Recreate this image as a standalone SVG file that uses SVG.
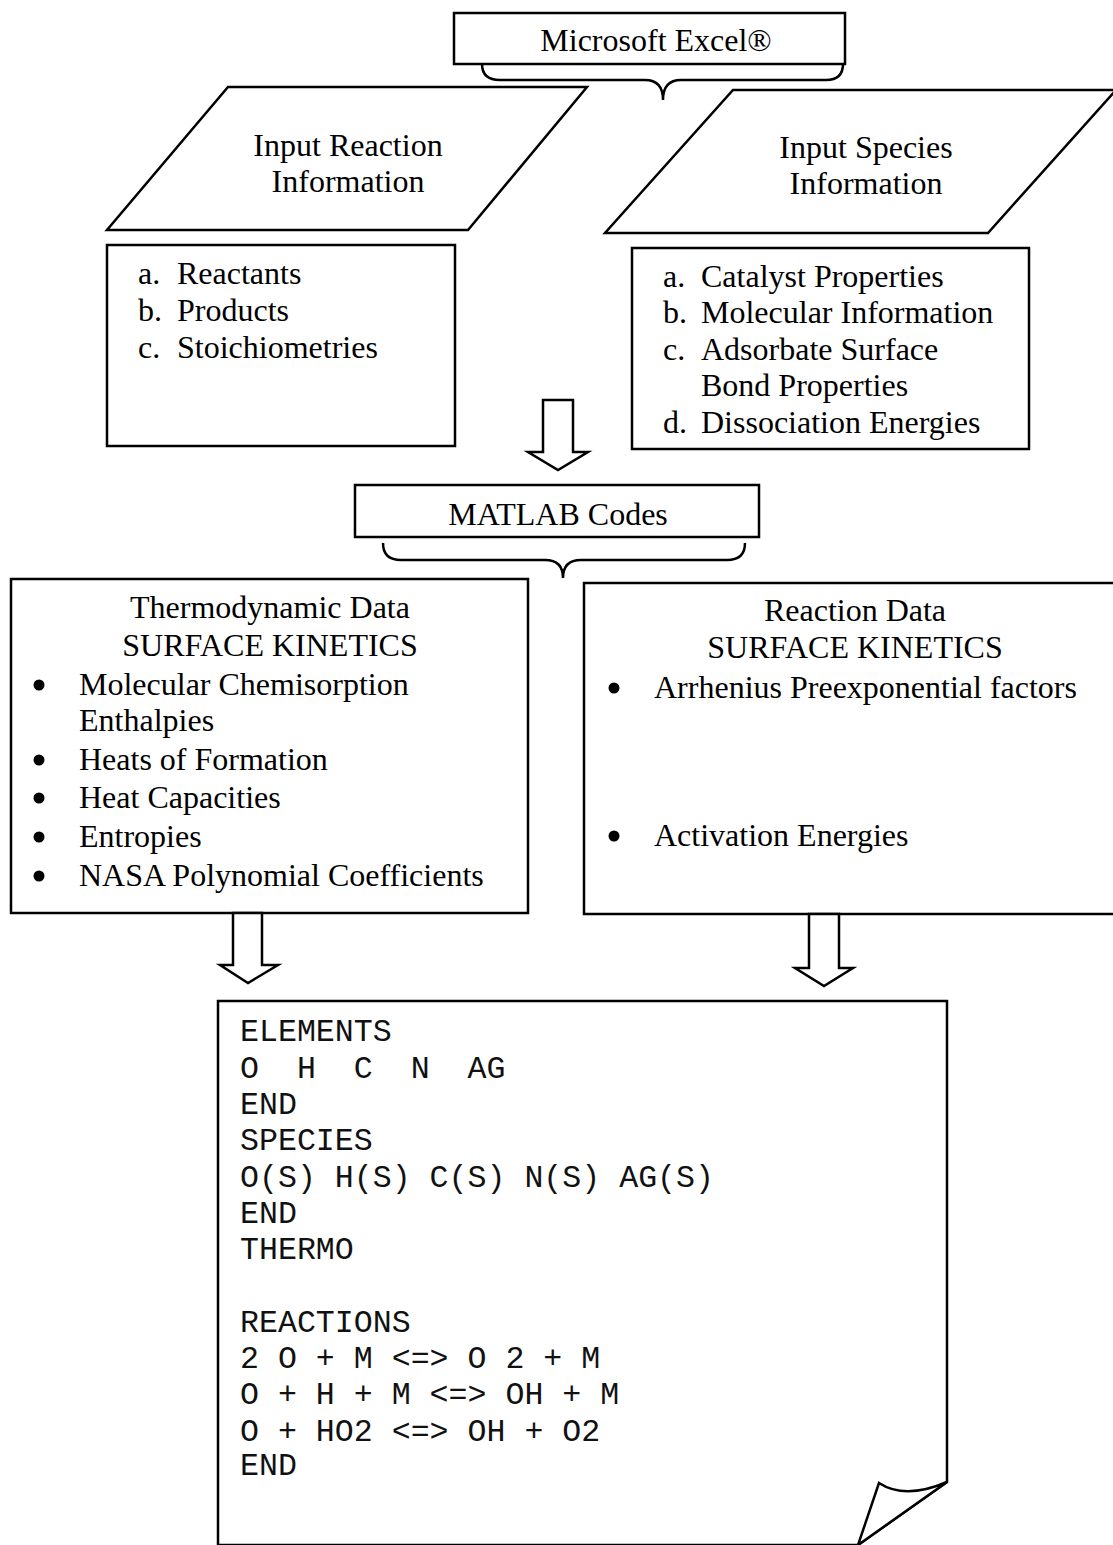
<svg xmlns="http://www.w3.org/2000/svg" width="1113" height="1545" viewBox="0 0 1113 1545">
<style>
.s{fill:#fff;stroke:#000;stroke-width:2.5;stroke-linejoin:miter}
.b{fill:none;stroke:#000;stroke-width:2.5}
.t{font-family:"Liberation Serif","Times New Roman",serif;font-size:32px;fill:#000}
.c{text-anchor:middle}
.m{font-family:"Liberation Mono","Courier New",monospace;font-size:31.6px;fill:#111}
.d{fill:#000}
</style>
<rect width="1113" height="1545" fill="#fff"/>
<g id="excel">
<rect class="s" x="454" y="13" width="391" height="51"/>
<text class="t c" x="656" y="51">Microsoft Excel®</text>
</g>
<g id="input-reaction">
<polygon class="s" points="228,87 587,87 468,230 107,230"/>
<text class="t c" x="348" y="156">Input Reaction</text>
<text class="t c" x="348" y="192">Information</text>
</g>
<g id="input-species">
<polygon class="s" points="733,90 1116,90 988,233 605,233"/>
<text class="t c" x="866" y="158">Input Species</text>
<text class="t c" x="866" y="194">Information</text>
</g>
<g id="reaction-list">
<rect class="s" x="107" y="245" width="348" height="201"/>
<text class="t" x="138" y="284">a.</text><text class="t" x="177" y="284">Reactants</text>
<text class="t" x="138" y="321">b.</text><text class="t" x="177" y="321">Products</text>
<text class="t" x="138" y="358">c.</text><text class="t" x="177" y="358">Stoichiometries</text>
</g>
<g id="species-list">
<rect class="s" x="632" y="248" width="397" height="201"/>
<text class="t" x="663" y="287">a.</text><text class="t" x="701" y="287">Catalyst Properties</text>
<text class="t" x="663" y="323">b.</text><text class="t" x="701" y="323">Molecular Information</text>
<text class="t" x="663" y="360">c.</text><text class="t" x="701" y="360">Adsorbate Surface</text>
<text class="t" x="701" y="396">Bond Properties</text>
<text class="t" x="663" y="433">d.</text><text class="t" x="701" y="433">Dissociation Energies</text>
</g>
<g id="matlab">
<rect class="s" x="355" y="485" width="404" height="52"/>
<text class="t c" x="558" y="525">MATLAB Codes</text>
</g>
<g id="thermo">
<rect class="s" x="11" y="579" width="517" height="334"/>
<text class="t c" x="270" y="618">Thermodynamic Data</text>
<text class="t c" x="270" y="656">SURFACE KINETICS</text>
<circle class="d" cx="39" cy="685" r="5.5"/><text class="t" x="79" y="695">Molecular Chemisorption</text>
<text class="t" x="79" y="731">Enthalpies</text>
<circle class="d" cx="39" cy="760" r="5.5"/><text class="t" x="79" y="770">Heats of Formation</text>
<circle class="d" cx="39" cy="798" r="5.5"/><text class="t" x="79" y="808">Heat Capacities</text>
<circle class="d" cx="39" cy="837" r="5.5"/><text class="t" x="79" y="847">Entropies</text>
<circle class="d" cx="39" cy="876" r="5.5"/><text class="t" x="79" y="886">NASA Polynomial Coefficients</text>
</g>
<g id="reaction-data">
<rect class="s" x="584" y="583" width="540" height="331"/>
<text class="t c" x="855" y="621">Reaction Data</text>
<text class="t c" x="855" y="658">SURFACE KINETICS</text>
<circle class="d" cx="614" cy="688" r="5.5"/><text class="t" x="654" y="698">Arrhenius Preexponential factors</text>
<circle class="d" cx="614" cy="836" r="5.5"/><text class="t" x="654" y="846">Activation Energies</text>
</g>
<g id="mechanism-file">
<path class="s" d="M218,1560 L218,1001 L947,1001 L947,1482 L858,1545 L218,1545"/>
<path class="s" d="M879,1483 Q905,1500 947,1482 L858,1545 Z"/>
<text class="m" x="240" y="1041">ELEMENTS</text>
<text class="m" x="240" y="1078" xml:space="preserve">O  H  C  N  AG</text>
<text class="m" x="240" y="1114">END</text>
<text class="m" x="240" y="1150">SPECIES</text>
<text class="m" x="240" y="1187">O(S) H(S) C(S) N(S) AG(S)</text>
<text class="m" x="240" y="1223">END</text>
<text class="m" x="240" y="1259">THERMO</text>
<text class="m" x="240" y="1332">REACTIONS</text>
<text class="m" x="240" y="1368" xml:space="preserve">2 O + M &lt;=&gt; O 2 + M</text>
<text class="m" x="240" y="1404" xml:space="preserve">O + H + M &lt;=&gt; OH + M</text>
<text class="m" x="240" y="1441" xml:space="preserve">O + HO2 &lt;=&gt; OH + O2</text>
<text class="m" x="240" y="1475">END</text>
</g>
<g id="connectors">
<path class="b" d="M482,64 Q482,80 500,80 L645,80 Q663,80 663,100 Q663,80 681,80 L826,80 Q843,80 843,64"/>
<path class="s" d="M543,400 L573,400 L573,452 L588,452 L558,470 L528,452 L543,452 Z"/>
<path class="b" d="M383,543 Q383,560 401,560 L545,560 Q563,560 563,578 Q563,560 581,560 L727,560 Q745,560 745,543"/>
<path class="s" d="M233,913 L262,913 L262,965 L278,965 L248,983 L220,965 L233,965 Z"/>
<path class="s" d="M809,914 L839,914 L839,968 L853,968 L824,986 L795,968 L809,968 Z"/>
</g>
</svg>
